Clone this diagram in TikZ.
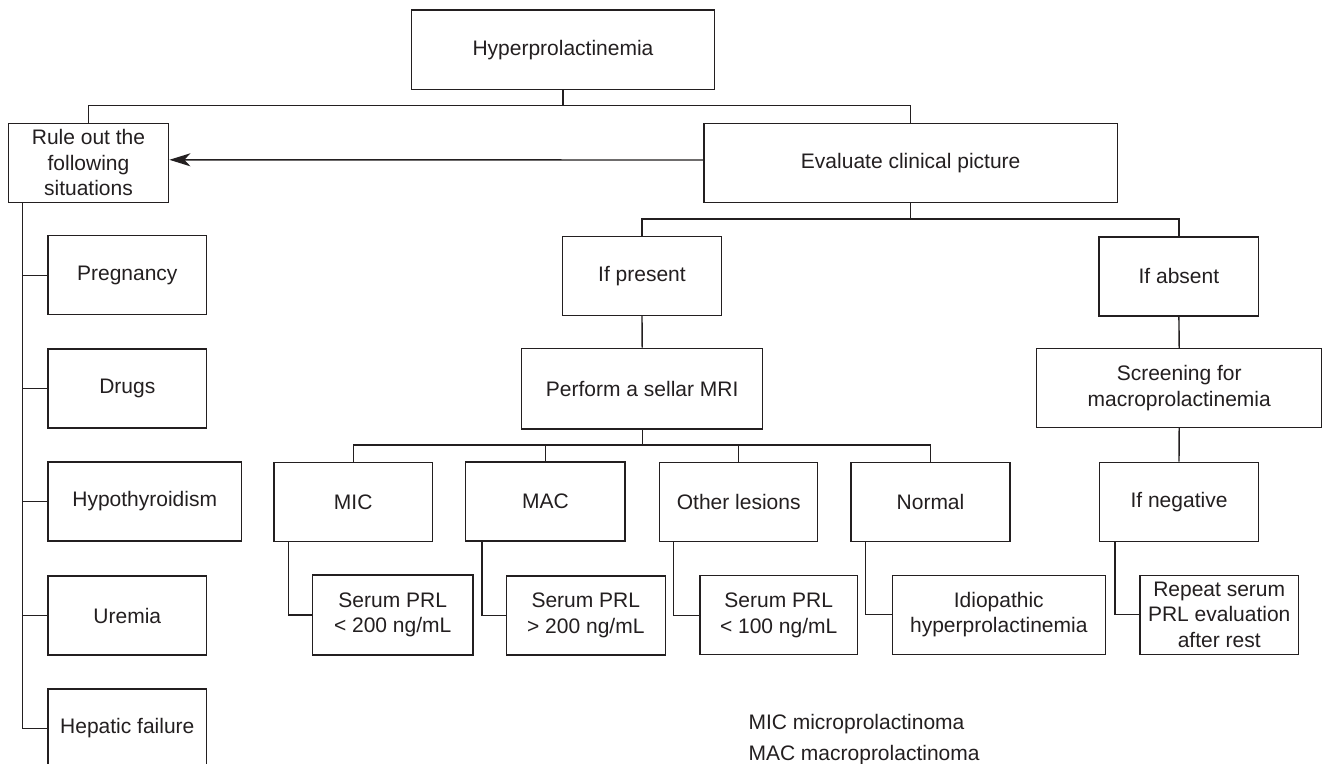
\documentclass[tikz,border=0pt]{standalone}
\usepackage{fontspec}
\setmainfont{Liberation Sans}
\usetikzlibrary{arrows.meta}
\definecolor{ink}{RGB}{35,31,32}
\begin{document}
\begin{tikzpicture}[x=1pt,y=-1pt,
  every node/.style={font=\fontsize{21}{25.5}\selectfont, text=ink},
  box/.style={draw=ink, line width=1.4pt, inner sep=0pt, align=center, minimum height=79pt},
  conn/.style={draw=ink, line width=1.4pt},
]
\useasboundingbox (0,0) rectangle (1322,763);
\clip (0,0) rectangle (1322,763);
\fill[white] (0,0) rectangle (1322,763);

% nodes
\node[box, minimum width=302.6pt, minimum height=79.3pt] (hyper) at (563,49.7) {Hyperprolactinemia};
\node[box, minimum width=160.4pt] (rule) at (88.5,162.8) {Rule out the\\following\\situations};
\node[box, minimum width=413.3pt] (eval) at (910.7,163) {Evaluate clinical picture};
\node[box, minimum width=158.6pt] (ifp) at (642,275.9) {If present};
\node[box, minimum width=159.7pt] (ifa) at (1178.9,276.4) {If absent};
\node[box, minimum width=241pt, minimum height=80.7pt] (mri) at (642.2,388.7) {Perform a sellar MRI};
\node[box, minimum width=285pt] (scr) at (1179.2,388) {Screening for\\macroprolactinemia};

\node[box, minimum width=158.7pt] (preg) at (127.3,275.2) {Pregnancy};
\node[box, minimum width=158.7pt] (drugs) at (127.3,388.5) {Drugs};
\node[box, minimum width=193.3pt] (hypo) at (144.7,501.5) {Hypothyroidism};
\node[box, minimum width=158.7pt] (urem) at (127.3,615.5) {Uremia};
\node[box, minimum width=158.7pt] (hep) at (127.3,728.5) {Hepatic failure};

\node[box, minimum width=158.3pt] (mic) at (353.2,501.8) {MIC};
\node[box, minimum width=159.3pt] (mac) at (545.4,501.5) {MAC};
\node[box, minimum width=158pt] (oth) at (738.7,501.8) {Other lesions};
\node[box, minimum width=159pt] (norm) at (930.5,501.8) {Normal};
\node[box, minimum width=159.4pt] (ifn) at (1179,501.8) {If negative};

\node[box, minimum width=160.7pt, minimum height=80pt] (smic) at (392.7,615) {Serum PRL\\< 200 ng/mL};
\node[box, minimum width=159pt] (smac) at (585.8,615.5) {Serum PRL\\> 200 ng/mL};
\node[box, minimum width=157.3pt] (soth) at (778.7,615.2) {Serum PRL\\< 100 ng/mL};
\node[box, minimum width=213pt] (idio) at (998.8,614.7) {Idiopathic\\hyperprolactinemia};
\node[box, minimum width=158.3pt] (rep) at (1219.2,614.7) {Repeat serum\\PRL evaluation\\after rest};

\node[anchor=base west, inner sep=0pt] (leg1) at (748.3,729) {MIC microprolactinoma};
\node[anchor=base west, inner sep=0pt] (leg2) at (748.3,760) {MAC macroprolactinoma};

% junctions
\coordinate (j1) at (563,105.3);
\coordinate (j2) at (910.7,219);
\coordinate (j3) at (642.2,445);
\coordinate (sp) at ([xshift=15pt]rule.south west);

% connectors
\draw[conn] (hyper.south) -- (j1);
\draw[conn] (rule.north) |- (j1) -| (eval.north);
\draw[conn, -{Stealth[length=21pt, width=13pt, inset=6pt]}] ([yshift=3pt]eval.west) -- ([yshift=3pt]rule.east);
\draw[conn] (eval.south) -- (j2);
\draw[conn] (ifp.north) |- (j2) -| (ifa.north);
\draw[conn] (ifp.south) -- (mri.north);
\draw[conn] (mri.south) -- (j3);
\draw[conn] (mic.north) |- (j3) -| (norm.north);
\draw[conn] (mac.north) -- (mac.north |- j3);
\draw[conn] (oth.north) -- (oth.north |- j3);
\draw[conn] ([xshift=15.3pt]mic.south west) |- (smic.west);
\draw[conn] ([xshift=17pt]mac.south west) |- (smac.west);
\draw[conn] ([xshift=14.3pt]oth.south west) |- (soth.west);
\draw[conn] ([xshift=15pt]norm.south west) |- (idio.west);
\draw[conn] (ifa.south) -- (scr.north);
\draw[conn] (scr.south) -- (ifn.north);
\draw[conn] ([xshift=16.2pt]ifn.south west) |- (rep.west);

\draw[conn] (sp) |- (hep.west);
\draw[conn] (sp |- preg.west) -- (preg.west);
\draw[conn] (sp |- drugs.west) -- (drugs.west);
\draw[conn] (sp |- hypo.west) -- (hypo.west);
\draw[conn] (sp |- urem.west) -- (urem.west);
\end{tikzpicture}
\end{document}
